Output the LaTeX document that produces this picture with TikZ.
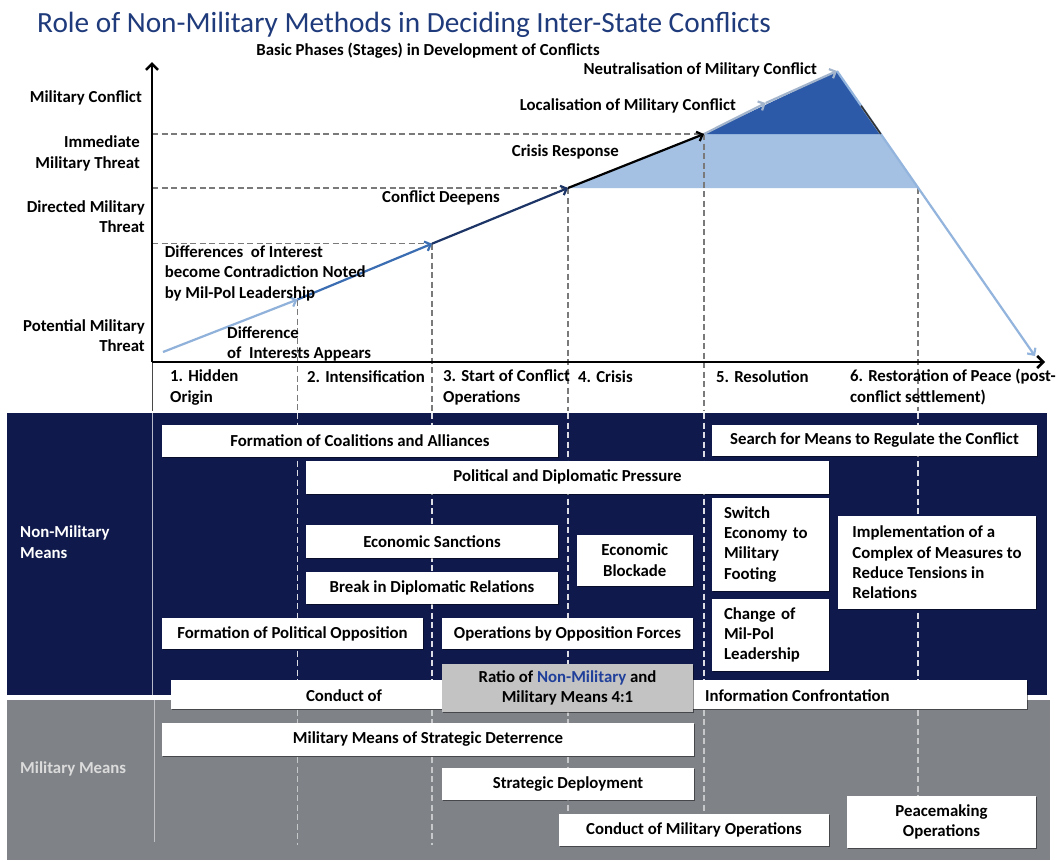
\documentclass[tikz,border=0pt]{standalone}
\usepackage{fontspec}
\setmainfont{Carlito}
\usetikzlibrary{arrows.meta,shadows,calc}
\definecolor{titleblue}{HTML}{1F3B7B}
\definecolor{navyband}{HTML}{0F194C}
\definecolor{greyband}{HTML}{7F8388}
\definecolor{ratiogrey}{HTML}{C3C3C3}
\definecolor{paleblue}{HTML}{A4C0E2}
\definecolor{deepblue}{HTML}{2C5AA8}
\definecolor{arrowA}{HTML}{8FB1DA}
\definecolor{arrowB}{HTML}{3B6DB2}
\definecolor{arrowC}{HTML}{1C3566}
\definecolor{arrowE}{HTML}{A3B5CC}
\definecolor{dropline}{HTML}{93B4DC}
\definecolor{guide}{HTML}{7A7A7A}
\definecolor{textblue}{HTML}{1F3F9A}
\newcommand\lblfont{\fontsize{16.8}{20.3}\selectfont\bfseries}
\begin{document}
\begin{tikzpicture}[x=1pt,y=-1pt,
  lbl/.style={font=\lblfont, inner sep=0pt, text=black},
  wbox/.style={fill=white, inner sep=0pt, font=\lblfont, text=black,
     drop shadow={shadow xshift=1.3pt, shadow yshift=-1.3pt, opacity=0.45, fill=black}},
  lbox/.style={wbox, align=left, inner xsep=12pt},
  guideline/.style={draw=guide, line width=1.4pt, dash pattern=on 6pt off 3.5pt},
  whiteguide/.style={draw=white!85!navyband, line width=1.4pt, dash pattern=on 6pt off 3.5pt},
  greyguide/.style={draw=white!55!greyband, line width=1.2pt, dash pattern=on 6pt off 3.5pt},
  axis/.style={draw=black, line width=2.6pt, -{Straight Barb[length=6pt,width=12pt]}},
  phase/.style={line width=2.2pt, -{Straight Barb[length=5pt,width=10pt]}},
]
\useasboundingbox (0,0) rectangle (1058,860);
\fill[white] (0,0) rectangle (1058,860);

% bands for the two kinds of means
\fill[navyband] (7,413) rectangle (1047,695);
\fill[greyband] (7,700) rectangle (1050,860);

% course of the conflict
\coordinate (o)  at (152,362);
\coordinate (p0) at (163,352);
\coordinate (p1) at (297.5,299.5);
\coordinate (p2) at (432,243.7);
\coordinate (p3) at (568,188);
\coordinate (p4) at (704,134);
\coordinate (p5) at (765.7,103);
\coordinate (p6) at (837,71);
\coordinate (tr) at (880.8,134);
\coordinate (br) at (918,188);
\coordinate (p7) at (1035,356);
\coordinate (ytip) at (152,62);
\coordinate (xtip) at (1045,362);

\fill[paleblue] (p3) -- (p4) -- (tr) -- (br) -- cycle;
\fill[deepblue] (p4) -- (p6) -- (tr) -- cycle;

% guide lines
\draw[guideline] (152,134) -- (p4);
\draw[guideline] (152,188) -- (p3);
\draw[guideline] (152,243.7) -- (p2);
\draw[guideline] (p1) -- (297.5,411);
\draw[guideline] (p2) -- (432,411);
\draw[guideline] (p3) -- (568,411);
\draw[guideline] (p4) -- (704,411);
\draw[guideline] (br) -- (918,411);
\foreach \gx in {297.5,432,568,704,918}{
  \draw[whiteguide] (\gx,413) -- (\gx,695);
  \draw[greyguide] (\gx,700) -- (\gx,845);
}
\draw[guide!60!black, line width=1pt] (152,362) -- (152,411);
\draw[white!70!navyband, line width=1pt] (152,413) -- (152,695);
\draw[white!50!greyband, line width=1pt] (154,700) -- (154,842);

\draw[phase, arrowA] (p0) -- (p1);
\draw[phase, arrowB] (p1) -- (p2);
\draw[phase, arrowC] (p2) -- (p3);
\draw[phase, black] (p3) -- (p4);
\draw[phase, arrowE] (p4) -- (p5);
\draw[phase, arrowE] (p5) -- (p6);
\draw[phase, dropline] (p6) -- (p7);
\draw[line width=1.6pt, black!80] ($(p6)!0.55!(tr)$) -- (tr);

\draw[axis] (o) -- (ytip);
\draw[axis] (o) -- (xtip);

% titles
\node[anchor=west, inner sep=0pt, font=\fontsize{29.3}{34}\selectfont, text=titleblue] (title) at (37,25)
  {Role of Non-Military Methods in Deciding Inter-State Conflicts};
\node[lbl] (subtitle) at (428,51) {Basic Phases (Stages) in Development of Conflicts};

% threat levels (base anchor = last line)
\node[lbl, anchor=base east] (lvl5) at (142,102.5) {Military Conflict};
\node[lbl, anchor=base east, align=right] (lvl4) at (140,168) {Immediate\\Military Threat};
\node[lbl, anchor=base east, align=right] (lvl3) at (145,232.5) {Directed Military\\Threat};
\node[lbl, anchor=base east, align=right] (lvl1) at (145,351.5) {Potential Military\\Threat};

% stage notes on the chart
\node[lbl, anchor=base west, align=left] (n2) at (164.6,298) {Differences\ \ of Interest\\become Contradiction Noted\\by Mil-Pol Leadership};
\node[lbl, anchor=base west, align=left] (n1) at (227,358.5) {Difference\\of\ \ Interests Appears};
\node[lbl, anchor=base west] (n3) at (382,202.5) {Conflict Deepens};
\node[lbl, anchor=base east] (n4) at (619,156.5) {Crisis Response};
\node[lbl, anchor=base east] (n5) at (736,110.5) {Localisation of Military Conflict};
\node[lbl, anchor=base east] (n6) at (817,74) {Neutralisation of Military Conflict};

% phases
\node[lbl, anchor=base west, align=left] (ph1) at (170,402) {1. Hidden\\Origin};
\node[lbl, anchor=base west] (ph2) at (307,382.5) {2. Intensification};
\node[lbl, anchor=base west, align=left] (ph3) at (443,402) {3. Start of Conflict\\Operations};
\node[lbl, anchor=base west] (ph4) at (578,382.5) {4. Crisis};
\node[lbl, anchor=base west] (ph5) at (716,382.5) {5. Resolution};
\node[lbl, anchor=base west, align=left] (ph6) at (850,402) {6. Restoration of Peace (post-\\conflict settlement)};

% row headings
\node[lbl, anchor=base west, align=left, text=white] (nmm) at (20,558) {Non-Military\\Means};
\node[lbl, anchor=base west, text=white!86!black] (mm) at (20,773.5) {Military Means};

% non-military means
\node[wbox, minimum width=396pt, minimum height=31.5pt] (coal) at (360,440.75) {Formation of Coalitions and Alliances};
\node[wbox, minimum width=325pt, minimum height=31pt] (search) at (874.5,440.5) {Search for Means to Regulate the Conflict};
\node[wbox, minimum width=523pt, minimum height=32.5pt] (pdp) at (567.5,477.25) {Political and Diplomatic Pressure};
\node[wbox, minimum width=252pt, minimum height=32.7pt] (ecs) at (432,541.35) {Economic Sanctions};
\node[wbox, minimum width=252pt, minimum height=32.1pt] (bdr) at (432,587.65) {Break in Diplomatic Relations};
\node[wbox, align=center, minimum width=116.5pt, minimum height=51.2pt] (eblock) at (634.75,560.2) {Economic\\Blockade};
\node[lbox, text width=93pt, minimum height=92.5pt] (switch) at (770.5,544.25) {Switch\\Economy~to\\Military\\Footing};
\node[lbox, text width=93pt, minimum height=72.5pt] (change) at (770.5,634.75) {Change~of\\Mil-Pol\\Leadership};
\node[wbox, align=left, minimum width=198pt, minimum height=93pt] (impl) at (937,562.5) {Implementation of a\\Complex of Measures to\\Reduce Tensions in\\Relations};
\node[wbox, minimum width=261pt, minimum height=31pt] (fpo) at (292.5,633.5) {Formation of Political Opposition};
\node[wbox, minimum width=251pt, minimum height=31pt] (obo) at (567.5,633.5) {Operations by Opposition Forces};
\node[wbox, minimum width=856pt, minimum height=29pt] (info) at (599,694.5) {};
\node[lbl] (infoA) at (344,695.5) {Conduct of};
\node[lbl, anchor=west] (infoB) at (705,695.5) {Information Confrontation};
\node[wbox, fill=ratiogrey, align=center, minimum width=251pt, minimum height=48.5pt] (ratio) at (567.5,687.75)
  {Ratio of \textcolor{textblue}{Non-Military} and\\Military Means 4:1};

% military means
\node[wbox, minimum width=532pt, minimum height=33.3pt] (msd) at (428,739.35) {Military Means of Strategic Deterrence};
\node[wbox, minimum width=252pt, minimum height=32pt] (sdep) at (568,784) {Strategic Deployment};
\node[wbox, align=center, minimum width=189pt, minimum height=52pt] (peace) at (941.5,822) {Peacemaking\\Operations};
\node[wbox, minimum width=270pt, minimum height=31.7pt] (cmo) at (694,829.85) {Conduct of Military Operations};
\end{tikzpicture}
\end{document}
